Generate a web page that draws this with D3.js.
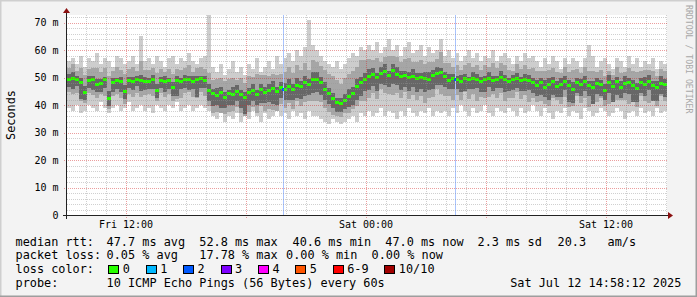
<!DOCTYPE html>
<html><head><meta charset="utf-8">
<script src="https://cdn.jsdelivr.net/npm/d3@7"></script>
<style>
html,body{margin:0;padding:0;background:#f3f3f3;}
svg{display:block;}
text{font-family:"DejaVu Sans Mono",monospace;white-space:pre;}
</style></head><body><svg id="c" width="697" height="297"></svg>
<script>
// ---------- data ----------
const startTime = "2025-07-11T09:03:00Z";
const endTime   = "2025-07-12T15:03:00Z";
const stepMinutes = 12;
const yMax = 72.73;

// median rtt (ms) per 12-minute step
const median = [
 49.6,49.9,49.4,48.3,44.8,49.2,49.5,47.6,48.1,49.3,42.5,48.4,49.0,48.7,45.2,49.1,48.8,49.5,49.0,48.6,48.9,49.4,45.6,49.2,48.9,49.0,46.4,49.1,48.7,49.3,49.6,48.9,49.4,49.7,49.2,
 45.5,44.2,43.6,44.9,42.8,44.5,43.9,45.1,44.0,42.9,44.6,45.3,44.1,45.8,44.9,45.6,46.2,45.0,46.4,
 46.0,46.9,45.7,47.4,46.8,48.2,47.6,49.4,
 49.6,48.2,45.8,44.3,42.4,41.1,40.6,42.0,
 43.2,44.5,46.8,48.3,49.5,
 50.6,51.3,50.2,51.8,52.4,51.0,52.8,51.4,50.5,50.9,50.1,50.7,49.8,50.3,49.9,49.6,50.8,51.7,52.1,
 50.4,49.2,49.8,49.5,48.9,49.7,49.3,50.0,49.6,48.8,49.4,49.9,49.1,49.6,50.2,49.4,48.7,49.5,49.8,49.2,49.6,49.0,48.4,
 47.2,48.3,46.5,47.8,48.6,46.9,47.5,48.9,47.1,45.8,48.2,47.6,48.7,47.3,46.4,48.0,47.7,45.5,48.4,47.0,48.8,46.7,47.9,48.5,47.2,46.1,48.3,47.6,48.9,47.4,46.6,48.1,47.5
];
// slowest ping of each step (ms)
const pingMax = [
 56,57,55,58,54,57,56,59,55,57,56,54,58,57,55,56,58,55,65,56,57,55,58,56,54,57,58,55,57,56,59,56,55,57,58,
 73,54,52,55,51,53,56,52,54,51,55,53,57,52,54,56,53,58,55,
 57,59,56,60,58,61,71,62,
 60,58,56,55,54,56,53,55,
 57,59,58,61,60,
 62,60,63,59,61,64,60,62,58,61,63,59,60,62,58,61,59,60,64,
 58,60,57,59,56,58,60,57,59,56,58,57,60,56,58,59,57,55,58,56,59,57,58,
 56,54,57,55,58,56,53,57,55,57,56,54,57,62,58,54,56,57,55,53,57,56,54,58,55,57,54,56,55,57,53,56,55
];
// fastest ping of each step (ms)
const pingMin = [
 39,38,40,37,38,40,39,38,41,39,37,39,40,38,39,41,38,39,40,38,39,37,40,39,38,40,39,41,38,39,40,38,39,40,39,
 38,36,35,37,34,36,35,37,34,36,35,38,36,34,37,35,36,38,36,
 37,35,38,36,37,35,38,36,
 36,35,34,33,35,34,33,34,
 35,36,34,37,36,
 38,36,37,39,36,38,37,35,38,36,39,37,36,38,37,39,36,38,37,
 38,36,39,37,40,38,36,39,37,38,40,37,36,39,38,37,39,38,36,39,37,38,40,
 38,36,39,37,35,38,37,39,36,38,37,35,39,38,36,37,39,38,36,37,39,38,35,37,38,36,39,37,38,36,39,37,38
];
// spread of the 2nd..9th pings above / below the median (ms)
const up2 = [
 4,5,3,5,6,4,4,6,4,4,8,4,5,4,6,4,5,3,7,4,4,4,6,4,3,4,5,4,4,4,5,3,4,4,4,
 6,5,6,5,6,5,6,4,6,5,6,5,7,5,6,5,5,6,5,
 6,7,6,7,6,7,5,7, 6,6,7,7,8,8,7,8, 8,8,7,8,7,
 6,5,7,4,5,7,5,6,5,6,7,5,6,6,5,6,5,5,7,
 5,6,4,5,4,5,6,4,5,4,5,4,6,4,5,5,4,3,5,4,5,4,5,
 5,4,6,5,5,5,4,5,5,7,5,4,5,5,6,4,5,5,4,4,5,5,4,5,5,6,4,5,4,5,4,5,5
];
const dn2 = [
 5,6,5,7,4,5,6,5,4,6,4,5,5,6,5,5,6,5,6,5,5,6,4,5,6,5,5,7,6,5,5,6,7,5,6,
 6,7,6,8,6,7,6,6,7,8,7,6,7,6,7,7,8,7,6,
 7,6,7,6,7,7,6,8, 8,7,7,7,6,5,5,5, 6,6,7,7,8,
 8,7,8,6,8,7,9,7,8,6,8,7,8,7,9,7,8,6,8,
 7,6,8,6,7,5,7,6,8,6,7,7,5,7,6,8,6,7,5,7,6,8,6,
 6,7,6,8,6,5,7,6,8,6,5,7,6,8,6,7,5,6,8,6,7,5,6,8,6,7,5,6,8,6,7,5,6
];
// spread of the 4th..7th pings above / below the median (ms)
const up3 = [
 1.5,2,1,1.5,2,1.5,1,2,1.5,1,2.5,1.5,1,1.5,2,1,1.5,1,2,1.5,1,1.5,2,1,1.5,1,2,1.5,1,1.5,1,1.5,1,1,1.5,
 2,1.5,2.5,1.5,2,1,2.5,2,1.5,2,1.5,2.5,1.5,2,1.5,2,2.5,1.5,2,
 2,2.5,2,2.5,2,2.5,2,2.5, 2.5,2,2.5,2,2,1.5,2,2, 2.5,2,2.5,2,2,
 2.5,2,1.5,2,2.5,1.5,2,2.5,2,1.5,2,2.5,2,1.5,2,2.5,2,2,1.5,
 1.5,2,1.5,1,2,1.5,1,2,1.5,1.5,1,2,1.5,1,2,1.5,1,1.5,2,1,1.5,2,1.5,
 2,1.5,2.5,2,1.5,2,2.5,1.5,2,2.5,1.5,2,2,1.5,2.5,2,1.5,2,2.5,2,1.5,2,2.5,1.5,2,2,1.5,2.5,2,1.5,2,2.5,2
];
const dn3 = [
 3,4,2.5,6,3,3,4,3,3.5,3,3,3.5,3,4,3,3,3.5,2.5,4,3,3,3.5,3,3,4,3,3,6,3,3,4,3,6.5,3.5,3,
 4,4.5,3.5,6,4,4.5,4,3.5,5,6,4.5,4,4,5,4,4.5,6,5,4,
 4,5,4,5,4.5,5,4,5, 5,4.5,4,4,3.5,3.5,3,3.5, 4,4.5,5,5,4.5,
 5,4.5,5,4,5,4.5,5,4,5,4.5,5,4,5,4.5,5,4,5,4.5,5,
 4,3.5,4,3.5,4,4.5,3.5,4,3.5,4,4.5,3.5,4,3.5,4,4.5,3.5,4,3.5,4,4.5,3.5,4,
 4,4.5,3.5,6,5,4,4.5,3.5,6,5,4,4.5,3.5,4,6,4,4.5,3.5,4,6,5,4,3.5,4.5,6,5,4,4.5,3.5,6,5,4,4.5
];
// packet-loss events
const lossTimes = ["2025-07-11T19:51:00Z", "2025-07-12T04:27:00Z"];
const lossPings = [2, 2];

// axis ticks
const yTicks = [0, 10, 20, 30, 40, 50, 60, 70];
const yTickLabels = ["0", "10 m", "20 m", "30 m", "40 m", "50 m", "60 m", "70 m"];
const xTickTimes = ["2025-07-11T12:00:00Z", "2025-07-12T00:00:00Z", "2025-07-12T12:00:00Z"];
const xTickLabels = ["Fri 12:00", "Sat 00:00", "Sat 12:00"];

// legend
const lossLabels = ["0", "1", "2", "3", "4", "5", "6-9", "10/10"];
const lossColors = ["#26ff00", "#00b8ff", "#0059ff", "#7e00ff", "#ff00ff", "#ff5500", "#ff0000", "#a10000"];
const rttStats = [47.7, 52.8, 40.6, 47.0];
const rttStatNames = ["avg", "max", "min", "now"];
const rttSd = 2.3;
const rttAms = 20.3;
const lossStats = [0.05, 17.78, 0.00, 0.00];
const probeText = "10 ICMP Echo Pings (56 Bytes) every 60s";
const stampText = "Sat Jul 12 14:58:12 2025";

// ---------- drawing ----------
const W = 697, H = 297;
const L = 67, R = 667, T = 15, B = 215;
const svg = d3.select("#c");

svg.append("rect").attr("width", W).attr("height", H).attr("fill", "#f3f3f3");
svg.append("path").attr("d", `M0,${H} V0 H${W}`).attr("fill", "none").attr("stroke", "#cfcfcf").attr("stroke-width", 3);
svg.append("path").attr("d", `M${W},0 V${H} H0`).attr("fill", "none").attr("stroke", "#9e9e9e").attr("stroke-width", 3);

svg.append("rect").attr("x", L).attr("y", T).attr("width", R - L).attr("height", B - T).attr("fill", "#ffffff");

const x = d3.scaleUtc().domain([new Date(startTime), new Date(endTime)]).range([L, R]);
const y = d3.scaleLinear().domain([0, yMax]).range([B, T]);

svg.append("clipPath").attr("id", "plot").append("rect")
  .attr("x", L).attr("y", T).attr("width", R - L).attr("height", B - T);

const t0 = new Date(startTime).getTime();
const stepMs = stepMinutes * 60000;
const n = median.length;
const pts = d3.range(n).map(i => ({
  t0: new Date(t0 + i * stepMs), t1: new Date(t0 + (i + 1) * stepMs),
  med: median[i], lo: pingMin[i], hi: pingMax[i],
  lo2: Math.max(pingMin[i], median[i] - dn2[i]), hi2: Math.min(pingMax[i], median[i] + up2[i]),
  lo3: median[i] - dn3[i], hi3: median[i] + up3[i]
}));

const g = svg.append("g").attr("clip-path", "url(#plot)").attr("shape-rendering", "crispEdges");

function band(lk, hk, color) {
  g.append("g").selectAll("rect").data(pts).join("rect")
    .attr("x", d => x(d.t0)).attr("width", d => x(d.t1) - x(d.t0))
    .attr("y", d => Math.round(y(d[hk]))).attr("height", d => Math.max(1, Math.round(y(d[lk])) - Math.round(y(d[hk]))))
    .attr("fill", color);
}
band("lo", "hi", "#cdcdcd");
band("lo2", "hi2", "#a6a6a6");
band("lo3", "hi3", "#676767");

lossTimes.forEach((t, k) => {
  const xx = Math.round(x(new Date(t))) + 0.5;
  g.append("line").attr("x1", xx).attr("x2", xx).attr("y1", T).attr("y2", B + 3)
    .attr("stroke", "#a9c4ff").attr("stroke-width", 1);
});

g.append("g").selectAll("rect").data(pts).join("rect")
  .attr("x", d => x(d.t0)).attr("width", d => x(d.t1) - x(d.t0))
  .attr("y", d => Math.round(y(d.med)) - 1).attr("height", 3)
  .attr("fill", lossColors[0]);
lossTimes.forEach((t, k) => {
  const tt = new Date(t);
  const idx = Math.floor((tt.getTime() - t0) / stepMs);
  g.append("rect").attr("x", Math.round(x(tt)) - 1).attr("width", 2)
    .attr("y", Math.round(y(median[idx])) - 1).attr("height", 3)
    .attr("fill", lossColors[lossPings[k]]);
});

// grid
const grid = svg.append("g").attr("fill", "none").attr("stroke-dasharray", "1,1").attr("shape-rendering", "crispEdges");
const minorY = d3.range(2, yMax, 2).filter(v => v % 10 !== 0);
const majorY = yTicks.filter(v => v > 0);
grid.selectAll(".my").data(minorY).join("line")
  .attr("x1", L).attr("x2", R).attr("y1", v => Math.round(y(v)) + 0.5).attr("y2", v => Math.round(y(v)) + 0.5)
  .attr("stroke", "rgba(150,150,150,0.45)");
const hours = d3.utcHour.range(new Date(startTime), new Date(endTime));
grid.selectAll(".mx").data(hours.filter(h => h.getUTCHours() % 6 !== 0)).join("line")
  .attr("x1", h => Math.round(x(h)) + 0.5).attr("x2", h => Math.round(x(h)) + 0.5).attr("y1", T).attr("y2", B)
  .attr("stroke", "rgba(150,150,150,0.45)");
grid.selectAll(".My").data(majorY).join("line")
  .attr("x1", L - 3).attr("x2", R).attr("y1", v => Math.round(y(v)) + 0.5).attr("y2", v => Math.round(y(v)) + 0.5)
  .attr("stroke", "rgba(210,40,40,0.45)");
grid.selectAll(".Mx").data(hours.filter(h => h.getUTCHours() % 6 === 0)).join("line")
  .attr("x1", h => Math.round(x(h)) + 0.5).attr("x2", h => Math.round(x(h)) + 0.5).attr("y1", T).attr("y2", B + 3)
  .attr("stroke", "rgba(210,40,40,0.45)");

// axes
const ax = svg.append("g").attr("shape-rendering", "crispEdges");
ax.append("line").attr("x1", L - 4).attr("x2", R + 2).attr("y1", B + 0.5).attr("y2", B + 0.5).attr("stroke", "#222");
ax.append("line").attr("x1", L - 0.5).attr("x2", L - 0.5).attr("y1", B + 4).attr("y2", T - 3).attr("stroke", "#222");
svg.append("path").attr("d", `M${R + 1},${B - 3} L${R + 6},${B + 0.5} L${R + 1},${B + 4} Z`).attr("fill", "#8b1010");
svg.append("path").attr("d", `M${L - 4},${T - 2} L${L - 0.5},${T - 7} L${L + 3},${T - 2} Z`).attr("fill", "#8b1010");

// tick labels
svg.append("g").selectAll("text").data(yTicks).join("text")
  .attr("x", 58.5).attr("y", (v) => y(v) + 3.6).attr("text-anchor", "end")
  .attr("font-size", "10px").attr("fill", "#000").text((v, i) => yTickLabels[i]);
svg.append("g").selectAll("text").data(xTickTimes).join("text")
  .attr("x", t => x(new Date(t))).attr("y", 228).attr("text-anchor", "middle")
  .attr("font-size", "10px").attr("fill", "#000").text((t, i) => xTickLabels[i]);

svg.append("text").attr("transform", `translate(14.5,${(T + B) / 2}) rotate(-90)`)
  .attr("text-anchor", "middle").attr("font-size", "11.85px").attr("fill", "#000").text("Seconds");
svg.append("text").attr("transform", `translate(685.5,5) rotate(90)`)
  .attr("font-size", "8.2px").attr("fill", "#a8a8a8").text("RRDTOOL / TOBI OETIKER");

// legend
const lg = svg.append("g").attr("font-size", "11.85px").attr("fill", "#000");
const f1 = d3.format(".1f"), f2 = d3.format(".2f");
const row1 = [["median rtt:", 15.5]].concat(
  rttStats.map((v, i) => [`${f1(v)} ms ${rttStatNames[i]}`, [106.6, 199.3, 292.6, 385.3][i]]),
  [[`${f1(rttSd)} ms sd`, 477.6], [`${f1(rttAms)}   am/s`, 557.6]]);
const row2 = [["packet loss:", 15.5]].concat(
  lossStats.map((v, i) => [`${f2(v)} % ${rttStatNames[i]}`, [106.6, 199.3, 286, 371.6][i]]));
const rowBase = [245.7, 259.4, 273.1, 286.8];
row1.forEach(([s, xx]) => lg.append("text").attr("x", xx).attr("y", rowBase[0]).text(s));
row2.forEach(([s, xx]) => lg.append("text").attr("x", xx).attr("y", rowBase[1]).text(s));
lg.append("text").attr("x", 15.5).attr("y", rowBase[2]).text("loss color:");
let sx = 108.8;
lossLabels.forEach((lab, i) => {
  lg.append("rect").attr("x", sx).attr("y", rowBase[2] - 8.1).attr("width", 10).attr("height", 8)
    .attr("fill", lossColors[i]).attr("stroke", "#000").attr("stroke-width", 1).attr("shape-rendering", "crispEdges");
  lg.append("text").attr("x", sx + 14).attr("y", rowBase[2]).text(lab);
  sx += 37.4 + (lab.length - 1) * 7.13;
});
lg.append("text").attr("x", 15.5).attr("y", rowBase[3]).text("probe:");
lg.append("text").attr("x", 106.6).attr("y", rowBase[3]).text(probeText);
lg.append("text").attr("x", 681.3).attr("y", rowBase[3]).attr("text-anchor", "end").text(stampText);
</script></body></html>
